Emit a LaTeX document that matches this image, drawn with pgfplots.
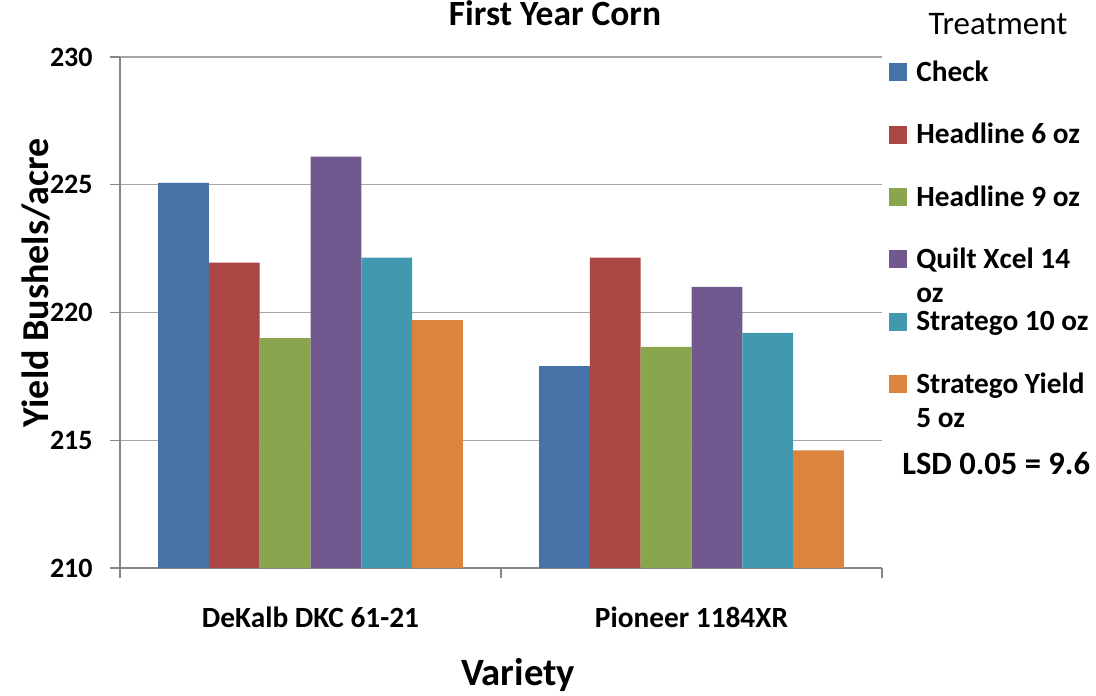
\documentclass[border=0pt]{standalone}
\usepackage{pgfplots}
\pgfplotsset{compat=1.18}
\usepackage{fontspec}
\setmainfont{Carlito}
\definecolor{cA}{HTML}{4572A7}
\definecolor{cB}{HTML}{AA4643}
\definecolor{cC}{HTML}{89A54E}
\definecolor{cD}{HTML}{71588F}
\definecolor{cE}{HTML}{4198AF}
\definecolor{cF}{HTML}{DB843D}
\definecolor{gridg}{HTML}{A6A6A6}
\definecolor{axg}{HTML}{868686}
\begin{document}
\begin{tikzpicture}
\useasboundingbox (0,0) rectangle (822pt,522pt);
\begin{axis}[
  at={(90pt,96pt)}, anchor=south west,
  scale only axis, width=571.5pt, height=383.25pt,
  xmin=-0.5, xmax=1.5, ymin=210, ymax=230,
  axis lines*=left,
  axis line style={draw=axg, line width=0.8pt},
  ytick={210,215,220,225,230},
  ymajorgrids, grid style={draw=gridg, line width=0.8pt},
  tick align=outside, major tick length=7.5pt,
  tick style={draw=axg, line width=0.8pt},
  xtick={-0.5,0.5,1.5}, xticklabels={},
  extra x ticks={0,1},
  extra x tick labels={DeKalb DKC 61-21, Pioneer 1184XR},
  extra x tick style={major tick length=0pt, grid=none},
  /pgf/number format/assume math mode=true,
  yticklabel style={font=\fontsize{21}{21}\selectfont\bfseries, anchor=east, xshift=-9.5pt},
  xticklabel style={font=\fontsize{22}{22}\selectfont\bfseries, anchor=base, yshift=-44.25pt},
  xlabel={Variety},
  xlabel style={font=\fontsize{29}{29}\selectfont\bfseries, anchor=base, at={(axis description cs:0.5223,0)}, yshift=-88pt},
  ylabel={Yield Bushels/acre},
  ylabel style={font=\fontsize{28.5}{28.5}\selectfont\bfseries, anchor=base, rotate=0, at={(axis description cs:-0.0935,0.5577)}},
  ybar=0pt, bar width=0.1333,
  every axis plot/.append style={draw=none},
  legend cell align=left,
  legend image code/.code={\fill[#1] (0pt,0pt) rectangle (13.5pt,13.5pt);},
  legend style={at={(rel axis cs:1.00919,0.99478)}, anchor=north west, draw=none, fill=none,
    inner sep=0pt, row sep=25.8pt, column sep=6.75pt,
    font=\fontsize{22}{25.5}\selectfont\bfseries,
    cells={anchor=base west},
    nodes={inner sep=0pt, text height=16pt, text depth=5pt}},
]
\addplot[fill=cA] coordinates {(0,225.07) (1,217.9)};
\addplot[fill=cB] coordinates {(0,221.95) (1,222.15)};
\addplot[fill=cC] coordinates {(0,219.0) (1,218.65)};
\addplot[fill=cD] coordinates {(0,226.1) (1,221.0)};
\addplot[fill=cE] coordinates {(0,222.15) (1,219.2)};
\addplot[fill=cF] coordinates {(0,219.7) (1,214.6)};
\legend{Check, Headline 6 oz, Headline 9 oz,
  {\smash{\begin{tabular}[t]{@{}l@{}}Quilt Xcel 14\\oz\end{tabular}}},
  Stratego 10 oz,
  {\smash{\begin{tabular}[t]{@{}l@{}}Stratego Yield\\5 oz\end{tabular}}}}
\end{axis}
\node[anchor=base, font=\fontsize{26.6}{26.6}\selectfont\bfseries] at (416.25pt,503pt) {First Year Corn};
\node[anchor=base, font=\fontsize{24.7}{24.7}\selectfont] at (748.5pt,495.75pt) {Treatment};
\node[anchor=base west, inner sep=0pt, font=\fontsize{24.4}{24.4}\selectfont\bfseries] at (676.5pt,165.75pt) {LSD 0.05 = 9.6};
\end{tikzpicture}
\end{document}
